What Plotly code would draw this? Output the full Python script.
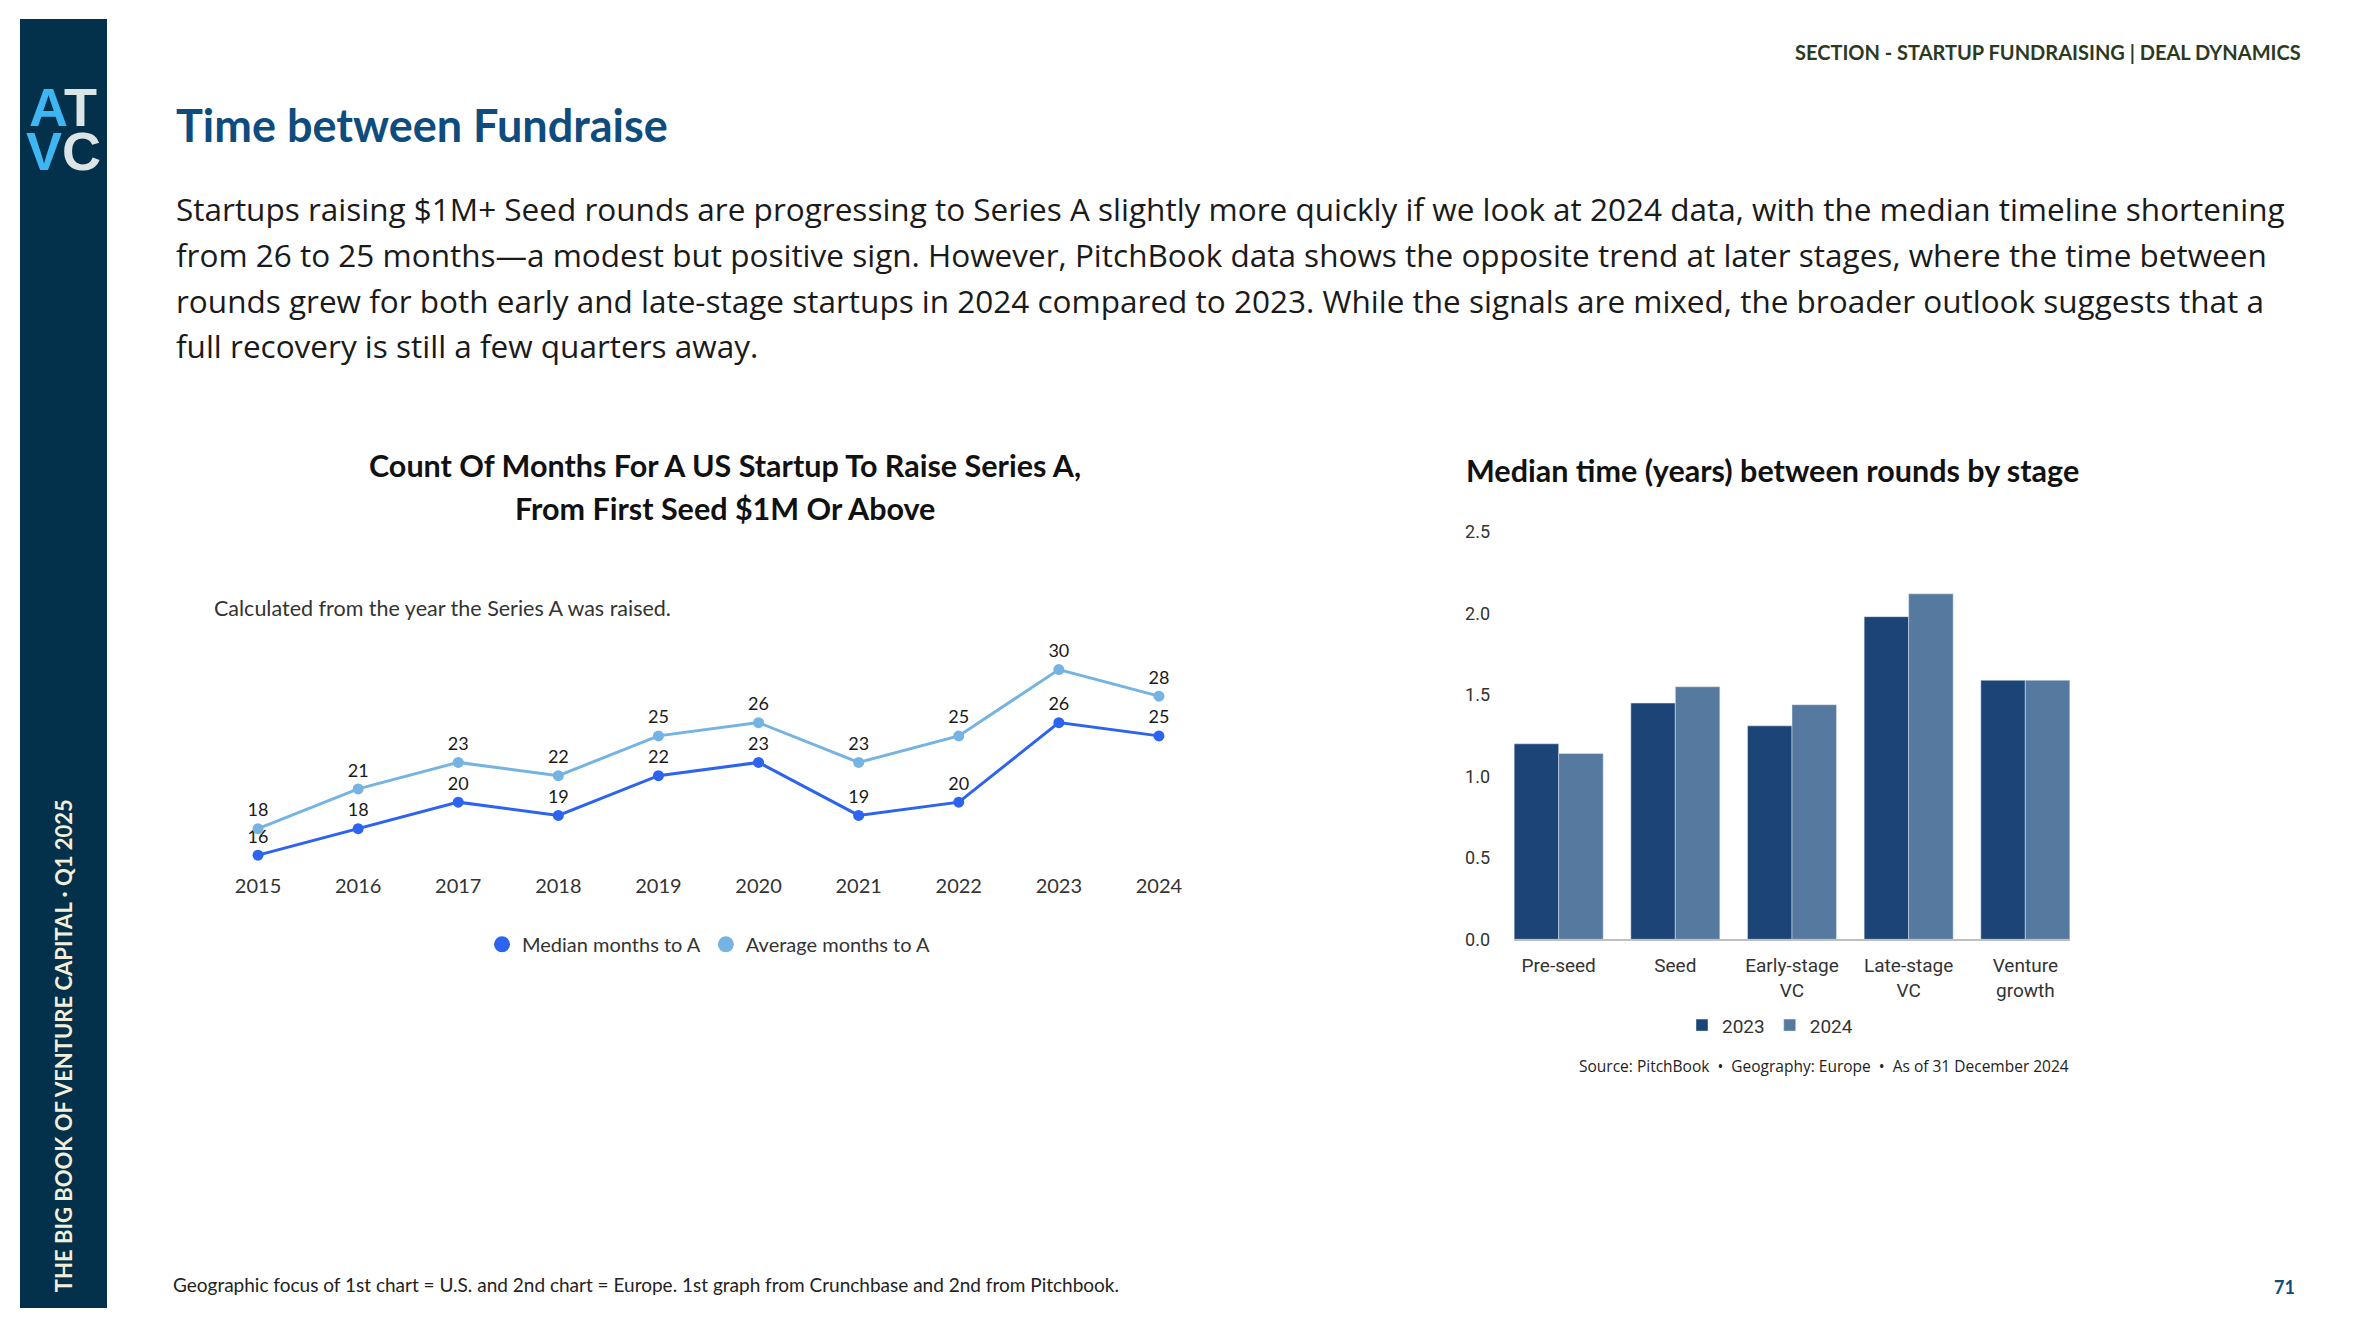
import plotly.graph_objects as go

# ---------------- data ----------------
years = ["2015", "2016", "2017", "2018", "2019", "2020", "2021", "2022", "2023", "2024"]
median_months = [16, 18, 20, 19, 22, 23, 19, 20, 26, 25]
average_months = [18, 21, 23, 22, 25, 26, 23, 25, 30, 28]

stages = ["Pre-seed", "Seed", "Early-stage<br>VC", "Late-stage<br>VC", "Venture<br>growth"]
median_years_2023 = [1.20, 1.45, 1.31, 1.98, 1.59]
median_years_2024 = [1.14, 1.55, 1.44, 2.12, 1.59]

body_lines = [
    "Startups raising $1M+ Seed rounds are progressing to Series A slightly more quickly if we look at 2024 data, with the median timeline shortening",
    "from 26 to 25 months\u2014a modest but positive sign. However, PitchBook data shows the opposite trend at later stages, where the time between",
    "rounds grew for both early and late-stage startups in 2024 compared to 2023. While the signals are mixed, the broader outlook suggests that a",
    "full recovery is still a few quarters away.",
]

# ---------------- helpers ----------------
OFF = 8
W, H = 2364 - 2 * OFF, 1326 - 2 * OFF
Y_TOP, Y_SCALE = 17.7, 0.985      # observed placement of the figure in the photographed page
def px(x):
    return (x - OFF) / W
def py(y):
    return 1 - (y - Y_TOP) / (Y_SCALE * H)

MAIN = "Lato, 'Open Sans', sans-serif"
BODY = "'Open Sans', Lato, sans-serif"
NARROW = "'Liberation Sans Narrow', 'Arial Narrow', Roboto, sans-serif"
MED_C = "#2C64EF"
AVG_C = "#74B3E2"
C23 = "#1D4477"
C24 = "#56799F"

fig = go.Figure()

# line chart
fig.add_trace(go.Scatter(
    x=years, y=median_months, mode="lines+markers+text", text=median_months,
    textposition="top center", textfont=dict(size=18, color="#1a1a1a", family=MAIN),
    line=dict(color=MED_C, width=3), marker=dict(size=11, color=MED_C),
    cliponaxis=False, showlegend=False, xaxis="x", yaxis="y", hoverinfo="skip"))
fig.add_trace(go.Scatter(
    x=years, y=average_months, mode="lines+markers+text", text=average_months,
    textposition="top center", textfont=dict(size=18, color="#1a1a1a", family=MAIN),
    line=dict(color=AVG_C, width=3), marker=dict(size=11, color=AVG_C),
    cliponaxis=False, showlegend=False, xaxis="x", yaxis="y", hoverinfo="skip"))
# legend entries (marker-only look)
fig.add_trace(go.Scatter(x=[None], y=[None], mode="markers", name="Median months to A",
                         marker=dict(size=22, color=MED_C), legend="legend",
                         xaxis="x", yaxis="y"))
fig.add_trace(go.Scatter(x=[None], y=[None], mode="markers", name="Average months to A",
                         marker=dict(size=22, color=AVG_C), legend="legend",
                         xaxis="x", yaxis="y"))

# bar chart
fig.add_trace(go.Bar(x=stages, y=median_years_2023, name="2023", marker_color=C23,
                     xaxis="x2", yaxis="y2", legend="legend2"))
fig.add_trace(go.Bar(x=stages, y=median_years_2024, name="2024", marker_color=C24,
                     xaxis="x2", yaxis="y2", legend="legend2"))

annotations = []
def txt(x, y, s, size, color="#1a1a1a", bold=False, family=MAIN, xanchor="left",
        yanchor="middle", textangle=0):
    if bold:
        s = "<b>" + s + "</b>"
    annotations.append(dict(x=px(x), y=py(y), xref="paper", yref="paper", text=s,
                            showarrow=False, xanchor=xanchor, yanchor=yanchor,
                            textangle=textangle, borderpad=0,
                            font=dict(size=size, color=color, family=family)))

# header / titles
txt(2302, 51, "SECTION - STARTUP FUNDRAISING | DEAL DYNAMICS", 20, color="#2B3A1F",
    bold=True, xanchor="right")
txt(175, 124, "Time between Fundraise", 45, color="#0E4C7D", bold=True)
for i, line in enumerate(body_lines):
    txt(175, 207 + i * 46, line, 31.5, color="#1a1a1a", family=BODY)

# line chart titles
txt(725, 464, "Count Of Months For A US Startup To Raise Series A,", 30.5, bold=True,
    color="#111111", xanchor="center")
txt(725, 507, "From First Seed $1M Or Above", 30.5, bold=True, color="#111111",
    xanchor="center")
txt(213, 607, "Calculated from the year the Series A was raised.", 21.5, color="#333333")

# bar chart title & source
txt(1465, 469, "Median time (years) between rounds by stage", 30.5, bold=True, color="#111111")
txt(2070, 1066, "Source: PitchBook  \u2022  Geography: Europe  \u2022  As of 31 December 2024", 15.5,
    color="#222222", xanchor="right", family="'Open Sans', sans-serif")

# footer
txt(172, 1285, "Geographic focus of 1st chart = U.S. and 2nd chart = Europe. 1st graph from Crunchbase and 2nd from Pitchbook.",
    19, color="#222222")
txt(2284, 1287, "71", 18, color="#0E4C7D", bold=True, xanchor="center")

# sidebar text
txt(63, 1046, "THE BIG BOOK OF VENTURE CAPITAL \u00b7 Q1 2025", 22, color="#F3EED8", bold=True,
    xanchor="center", textangle=-90)

# logo
LOGO_F = "'Liberation Sans Narrow', 'Liberation Sans', Arial, sans-serif"
txt(63, 106, "<span style='color:#3DB6F2'>A</span><span style='color:#DCE5E6'>T</span>",
    54, bold=True, family=LOGO_F, xanchor="center")
txt(63, 150, "<span style='color:#3DB6F2'>V</span><span style='color:#DCE5E6'>C</span>",
    54, bold=True, family=LOGO_F, xanchor="center")

shapes = [dict(type="rect", xref="paper", yref="paper", x0=px(20), x1=px(107), y0=0, y1=1,
               fillcolor="#03304A", line=dict(width=0), layer="below")]

fig.update_layout(
    width=W, height=H, margin=dict(l=0, r=0, t=0, b=0),
    paper_bgcolor="white", plot_bgcolor="white",
    font=dict(family=MAIN, color="#333333"),
    shapes=shapes, annotations=annotations,
    bargap=0.237, bargroupgap=0,
    xaxis=dict(domain=[px(208), px(1209)], type="category", range=[-0.5, 9.5],
               showgrid=False, zeroline=False, showline=False, ticks="",
               ticklabelstandoff=4,
               tickfont=dict(size=20, color="#333333", family=MAIN), anchor="y"),
    yaxis=dict(domain=[py(868), py(669)], range=[15, 30], tickvals=[15, 30],
               showticklabels=False, showgrid=True, gridcolor="#E6E6E6", gridwidth=1.5,
               zeroline=False, showline=False, anchor="x"),
    xaxis2=dict(domain=[px(1514), px(2070)], type="category", range=[-0.383, 4.383],
                showgrid=False, zeroline=False, showline=True, linecolor="#BFBFBF",
                linewidth=2, ticks="", anchor="y2", ticklabelstandoff=8,
                tickfont=dict(size=19, color="#333333", family=NARROW)),
    yaxis2=dict(domain=[py(939), py(531)], range=[0, 2.501], dtick=0.5, tick0=0,
                tickformat=".1f", showgrid=False, zeroline=False, showline=False,
                ticks="", ticklabelstandoff=23, anchor="x2",
                tickfont=dict(size=18, color="#333333", family=NARROW)),
    legend=dict(orientation="h", x=px(709), xanchor="center", y=py(944),
                yanchor="middle", font=dict(size=20, color="#333333", family=MAIN),
                bgcolor="rgba(0,0,0,0)"),
    legend2=dict(orientation="h", x=px(1770), xanchor="center", y=py(1025),
                 yanchor="middle", font=dict(size=19, color="#333333", family=NARROW),
                 bgcolor="rgba(0,0,0,0)", itemwidth=30),
    showlegend=True,
)

fig.write_html("out.html")
